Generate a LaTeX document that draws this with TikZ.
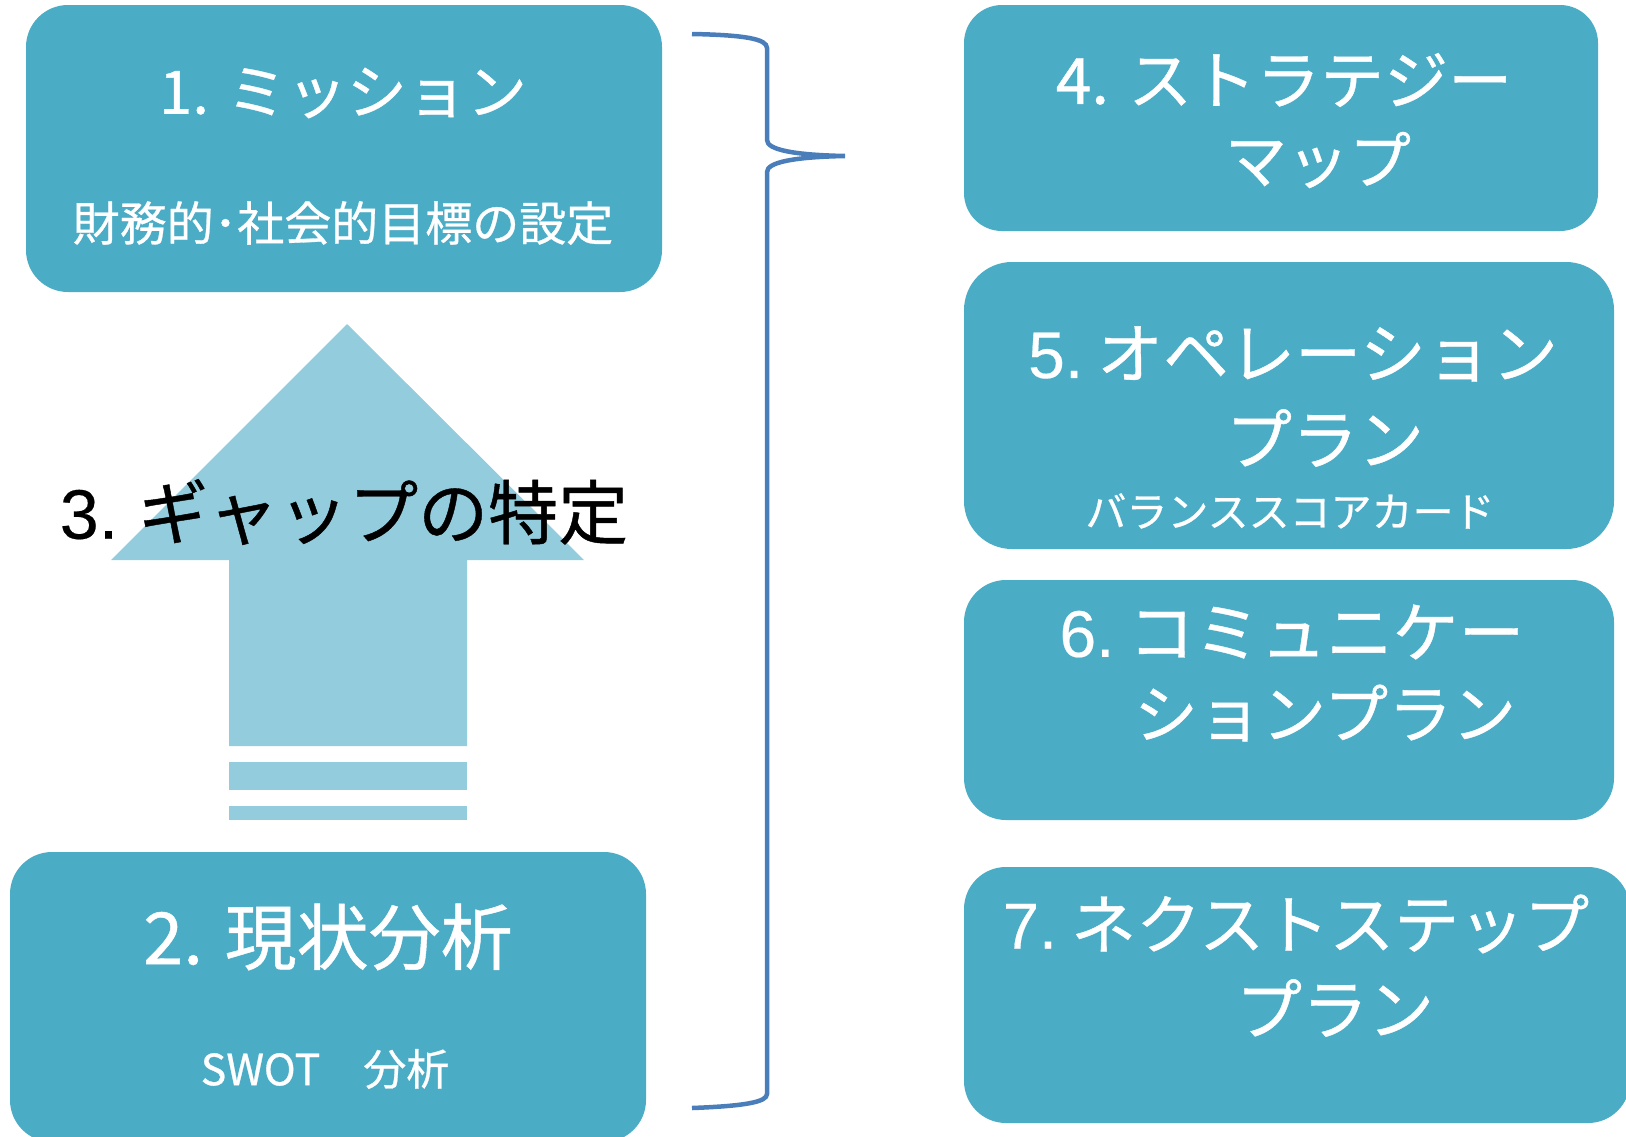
\documentclass[tikz,border=0pt]{standalone}
\usepackage{fontspec}
\setmainfont{Noto Sans CJK JP}[FakeBold=0.6]
\newfontfamily\arialf{Liberation Sans}[FakeBold=0.3]
\definecolor{boxc}{HTML}{4BACC6}
\definecolor{arrowc}{HTML}{93CDDD}
\definecolor{bracec}{HTML}{4A7EBB}
\begin{document}
\begin{tikzpicture}[x=1pt,y=-1pt,
  box/.style={fill=boxc, draw=none, rounded corners=42pt, inner sep=0pt},
  wt/.style={text=white, inner sep=0pt, anchor=center},
  fs/.style={font=\fontsize{#1}{#1}\selectfont}]
\useasboundingbox (0,0) rectangle (1626,1136);
\clip (0,0) rectangle (1626,1136);
% boxes
\node[box, minimum width=636, minimum height=287] (b1) at (344,148.5) {};
\node[box, minimum width=636, minimum height=290] (b2) at (328,997) {};
\node[box, minimum width=634, minimum height=226, rounded corners=38pt] (b4) at (1281,118) {};
\node[box, minimum width=650, minimum height=287, rounded corners=48pt] (b5) at (1289,405.5) {};
\node[box, minimum width=650, minimum height=240] (b6) at (1289,700) {};
\node[box, minimum width=666, minimum height=256] (b7) at (1297,995) {};
% arrow
\fill[arrowc] (347,324) -- (584,560) -- (467,560) -- (467,746) -- (229,746) -- (229,560) -- (111,560) -- cycle;
\fill[arrowc] (229,762) rectangle (467,790);
\fill[arrowc] (229,806) rectangle (467,820);
% brace
\draw[bracec, line width=4.5pt] (692,34) .. controls (745,35) and (767,39) .. (767,48) -- (767,140)
  .. controls (767,150) and (795,155) .. (845,156)
  .. controls (795,157) and (767,162) .. (767,172) -- (767,1094)
  .. controls (767,1102) and (745,1106) .. (692,1108);
% texts
\node[wt, fs=60] (t1a) at (343,93) {1. ミッション};
\node[wt, fs=47] (t1b) at (343,223) {財務的･社会的目標の設定};
\node[wt, fs=72] (t2a) at (328,937) {2. 現状分析};
\node[wt, fs=43] (t2b) at (325,1069) {SWOT　分析};
\node[inner sep=0pt, text=black, fs=70] (t3) at (344,512) {{\arialf 3.}\hspace{20pt}ギャップの特定};
\node[wt, fs=64] (t4a) at (1284,80) {4. ストラテジー};
\node[wt, fs=62] (t4b) at (1318,160) {マップ};
\node[wt, fs=66] (t5a) at (1293,354) {{\arialf 5.}\hspace{14pt}オペレーション};
\node[wt, fs=66] (t5b) at (1325,438) {プラン};
\node[wt, fs=41] (t5c) at (1290,511) {バランススコアカード};
\node[wt, fs=66] (t6a) at (1292,632) {{\arialf 6.}\hspace{14pt}コミュニケー};
\node[wt, fs=64] (t6b) at (1325,713) {ションプラン};
\node[wt, fs=65] (t7a) at (1296,924) {{\arialf 7.}\hspace{14pt}ネクストステップ};
\node[wt, fs=66] (t7b) at (1335,1008) {プラン};
\end{tikzpicture}
\end{document}
